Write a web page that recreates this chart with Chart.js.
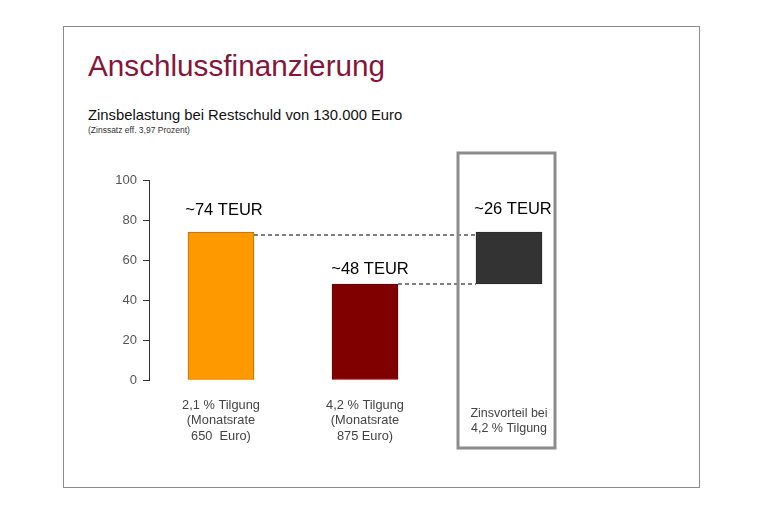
<!DOCTYPE html>
<html>
<head>
<meta charset="utf-8">
<script src="https://cdn.jsdelivr.net/npm/chart.js@4/dist/chart.umd.min.js"></script>
<style>
  body { margin: 0; background: #fff; font-family: "Liberation Sans", Arial, sans-serif; }
  #page { position: relative; width: 762px; height: 508px; }
  #frame { position: absolute; left: 63px; top: 26px; width: 635px; height: 460px; border: 1px solid #8c8c8c; }
  #titel { position: absolute; left: 88px; top: 49px; font-size: 29.7px; color: #85163a; }
  #untertitel { position: absolute; left: 88px; top: 107px; font-size: 14.8px; color: #111; }
  #hinweis { position: absolute; left: 88px; top: 125px; font-size: 8.5px; color: #333; }
  canvas { position: absolute; left: 0; top: 0; }
</style>
</head>
<body>
<div id="page">
  <div id="frame"></div>
  <div id="titel">Anschlussfinanzierung</div>
  <div id="untertitel">Zinsbelastung bei Restschuld von 130.000 Euro</div>
  <div id="hinweis">(Zinssatz eff. 3,97 Prozent)</div>
  <canvas id="barChart" width="762" height="508"></canvas>
</div>
<script>
const kategorien = [
  ['2,1 % Tilgung', '(Monatsrate', '650  Euro)'],
  ['4,2 % Tilgung', '(Monatsrate', '875 Euro)'],
  ['Zinsvorteil bei', '4,2 % Tilgung']
];
const zinsen21 = 74;
const zinsen42 = 48;
const balken = [[0, zinsen21], [0, zinsen42], [zinsen42, zinsen21]];
const werteTexte = ['~74 TEUR', '~48 TEUR', '~26 TEUR'];
const farben = ['#ff9900', '#800000', '#333333'];
const yTicks = [0, 20, 40, 60, 80, 100];

// Beschriftungen, gestrichelte Linien und Kasten um den Zinsvorteil
const extras = {
  id: 'extras',
  afterDatasetsDraw(chart) {
    const ctx = chart.ctx;
    const meta = chart.getDatasetMeta(0);
    const y = chart.scales.y;
    const b0 = meta.data[0], b1 = meta.data[1], b2 = meta.data[2];

    ctx.save();
    ctx.strokeStyle = '#555';
    ctx.lineWidth = 1.5;
    ctx.setLineDash([4, 3]);
    ctx.beginPath();
    ctx.moveTo(b0.x + b0.width / 2, y.getPixelForValue(zinsen21) + 3);
    ctx.lineTo(b2.x - b2.width / 2, y.getPixelForValue(zinsen21) + 3);
    ctx.moveTo(b1.x + b1.width / 2, y.getPixelForValue(zinsen42));
    ctx.lineTo(b2.x - b2.width / 2, y.getPixelForValue(zinsen42));
    ctx.stroke();
    ctx.setLineDash([]);

    // Kasten
    ctx.strokeStyle = '#8c8c8c';
    ctx.lineWidth = 3;
    ctx.strokeRect(b2.x - 51, chart.chartArea.top - 27, 97, 295);

    ctx.fillStyle = '#000';
    ctx.font = '16.5px "Liberation Sans", Arial, sans-serif';
    ctx.textAlign = 'center';
    ctx.textBaseline = 'middle';
    const abst = [22, 15, 23];
    const dx = [3, 5, 4];
    meta.data.forEach(function (bar, i) {
      ctx.fillText(werteTexte[i], bar.x + dx[i], y.getPixelForValue(balken[i][1]) - abst[i]);
    });
    ctx.restore();
  }
};

new Chart(document.getElementById('barChart'), {
  type: 'bar',
  data: {
    labels: kategorien,
    datasets: [{
      data: balken,
      backgroundColor: farben,
      borderColor: ['#b86e00', '#6a0000', '#2a2a2a'],
      borderWidth: 1,
      borderSkipped: false,
      barThickness: 66
    }]
  },
  options: {
    responsive: false,
    animation: false,
    layout: { padding: { top: 180, right: 181, bottom: 0, left: 0 } },
    scales: {
      x: {
        afterFit: function (scale) { scale.height = 128; },
        grid: { display: false },
        border: { display: false },
        ticks: {
          color: '#444',
          padding: 17,
          crossAlign: 'center',
          font: function (c) {
            return { family: '"Liberation Sans", Arial, sans-serif', size: c.index === 2 ? 12.5 : 12.8, lineHeight: 1.22 };
          }
        }
      },
      y: {
        min: 0,
        max: 100,
        afterFit: function (scale) { scale.width = 149; },
        afterBuildTicks: function (scale) { scale.ticks = yTicks.map(function (v) { return { value: v }; }); },
        grid: { drawOnChartArea: false, tickLength: 6, color: '#333' },
        border: { color: '#333', width: 1 },
        ticks: {
          color: '#555',
          padding: 6,
          font: { family: '"Liberation Sans", Arial, sans-serif', size: 13 }
        }
      }
    },
    plugins: {
      legend: { display: false },
      tooltip: { enabled: false }
    }
  },
  plugins: [extras]
});
</script>
</body>
</html>
